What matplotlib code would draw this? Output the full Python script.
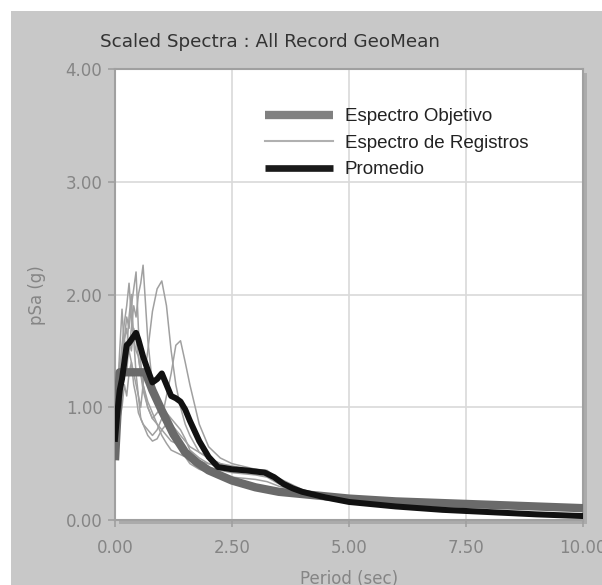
import matplotlib.pyplot as plt
from matplotlib.patches import Rectangle
from matplotlib.lines import Line2D

# Target (design) spectrum
t_target = [0, 0.1, 0.65, 0.8, 1.0, 1.25, 1.5, 1.75, 2.0, 2.5, 3.0, 3.5, 4.0, 5.0, 6.0, 7.0, 8.0, 9.0, 10.0]
sa_target = [0.53, 1.31, 1.31, 1.15, 0.97, 0.76, 0.6, 0.51, 0.44, 0.35, 0.29, 0.25, 0.23, 0.19, 0.165,
             0.15, 0.135, 0.12, 0.105]

# Scaled record spectra
t_rec = [0, 0.05, 0.1, 0.15, 0.2, 0.25, 0.3, 0.35, 0.4, 0.45, 0.5, 0.55, 0.6, 0.7, 0.8, 0.9, 1.0,
         1.1, 1.2, 1.3, 1.4, 1.5, 1.6, 1.8, 2.0, 2.25, 2.5, 3.0, 3.25, 3.5, 4.0, 5.0, 6.0, 8.0, 10.0]
rec1 = [0.55, 0.9, 1.3, 1.5, 1.6, 1.7, 1.5, 1.7, 1.9, 1.8, 2.0, 2.1, 2.26, 1.6, 1.2, 1.05, 0.95,
        0.9, 0.85, 0.8, 0.75, 0.7, 0.65, 0.6, 0.55, 0.5, 0.46, 0.42, 0.4, 0.34, 0.26, 0.17, 0.12, 0.07, 0.04]
rec2 = [0.6, 1.0, 1.4, 1.3, 1.6, 1.8, 1.7, 1.9, 2.05, 2.2, 1.7, 1.4, 1.2, 1.0, 0.9, 0.85, 0.8,
        0.75, 0.7, 0.68, 0.65, 0.6, 0.55, 0.5, 0.47, 0.44, 0.42, 0.4, 0.38, 0.32, 0.25, 0.16, 0.11, 0.07, 0.04]
rec3 = [0.5, 0.8, 1.1, 1.2, 1.3, 1.45, 1.5, 1.4, 1.3, 1.2, 1.1, 1.0, 1.2, 1.5, 1.85, 2.05, 2.12,
        1.9, 1.5, 1.2, 1.0, 0.85, 0.75, 0.6, 0.55, 0.5, 0.48, 0.44, 0.42, 0.35, 0.26, 0.16, 0.11, 0.06, 0.035]
rec4 = [0.52, 0.7, 0.9, 1.0, 1.2, 1.1, 1.3, 1.4, 1.2, 1.1, 0.95, 0.9, 0.85, 0.8, 0.75, 0.8, 0.9,
        1.1, 1.3, 1.55, 1.59, 1.4, 1.2, 0.85, 0.65, 0.55, 0.5, 0.45, 0.43, 0.37, 0.27, 0.16, 0.11, 0.06, 0.035]
rec5 = [0.65, 1.1, 1.5, 1.87, 1.5, 1.3, 1.6, 1.5, 1.7, 1.6, 1.45, 1.3, 1.2, 1.05, 0.95, 0.85, 0.75,
        0.68, 0.62, 0.6, 0.58, 0.56, 0.5, 0.45, 0.42, 0.4, 0.38, 0.36, 0.34, 0.3, 0.25, 0.16, 0.12, 0.07, 0.04]
rec6 = [0.5, 0.9, 1.2, 1.4, 1.6, 1.5, 1.8, 2.0, 1.6, 1.3, 1.1, 0.9, 0.85, 0.75, 0.7, 0.72, 0.8,
        0.85, 0.8, 0.72, 0.65, 0.6, 0.55, 0.52, 0.5, 0.48, 0.46, 0.45, 0.44, 0.36, 0.26, 0.16, 0.11, 0.06, 0.035]
rec7 = [0.58, 1.0, 1.3, 1.55, 1.75, 1.9, 2.1, 1.8, 1.6, 1.5, 1.45, 1.3, 1.15, 1.0, 0.9, 0.95, 1.0,
        0.95, 0.9, 0.85, 0.8, 0.72, 0.62, 0.55, 0.5, 0.47, 0.44, 0.42, 0.4, 0.34, 0.26, 0.16, 0.115, 0.065, 0.04]
records = [rec1, rec2, rec3, rec4, rec5, rec6, rec7]

# Average spectrum
t_mean = [0, 0.05, 0.1, 0.15, 0.2, 0.25, 0.3, 0.35, 0.4, 0.45, 0.5, 0.6, 0.7, 0.8, 0.9, 1.0, 1.1,
          1.2, 1.3, 1.4, 1.5, 1.6, 1.8, 2.0, 2.2, 2.5, 2.8, 3.0, 3.2, 3.4, 3.6, 3.8, 4.0, 4.5, 5.0,
          6.0, 7.0, 8.0, 9.0, 10.0]
sa_mean = [0.72, 0.95, 1.15, 1.25, 1.4, 1.55, 1.57, 1.6, 1.63, 1.66, 1.6, 1.45, 1.33, 1.22, 1.25,
           1.3, 1.2, 1.1, 1.08, 1.05, 0.98, 0.88, 0.7, 0.56, 0.47, 0.45, 0.44, 0.43, 0.42, 0.38,
           0.32, 0.28, 0.25, 0.2, 0.16, 0.12, 0.09, 0.07, 0.05, 0.035]

x_ticks = [0, 2.5, 5, 7.5, 10]
y_ticks = [0, 1, 2, 3, 4]

W, H = 602, 585
fig = plt.figure(figsize=(W / 100, H / 100), dpi=100, facecolor='white')

# gray panel background, white strip on top and left
fig.patches.append(Rectangle((11 / W, 0), 1, (H - 11) / H, transform=fig.transFigure,
                             facecolor='#c8c8c8', edgecolor='none', zorder=-3))

ax_l, ax_r, ax_t, ax_b = 115, 583, 69, 520
pos = [ax_l / W, (H - ax_b) / H, (ax_r - ax_l) / W, (ax_b - ax_t) / H]
# drop shadow
fig.patches.append(Rectangle((pos[0] + 4 / W, pos[1] - 4 / H), pos[2], pos[3], transform=fig.transFigure,
                             facecolor='#ababab', edgecolor='none', zorder=-2))
ax = fig.add_axes(pos)
ax.set_facecolor('white')

for r in records:
    ax.plot(t_rec, r, color='#a0a0a0', lw=1.1, zorder=2)
ax.plot(t_target, sa_target, color='#6a6a6a', lw=6, solid_capstyle='butt', zorder=3)
ax.plot(t_mean, sa_mean, color='#111111', lw=4.3, zorder=4)

ax.set_xlim(0, 10)
ax.set_ylim(0, 4)
ax.set_xticks(x_ticks)
ax.set_yticks(y_ticks)
ax.set_xticklabels(['%.2f' % v for v in x_ticks])
ax.set_yticklabels(['%.2f' % v for v in y_ticks])
ax.grid(True, color='#d9d9d9', lw=1.2)
ax.set_axisbelow(True)
for s in ax.spines.values():
    s.set_color('#a0a0a0')
    s.set_linewidth(1.5)
ax.tick_params(colors='#a0a0a0', labelcolor='#858585', labelsize=12, length=5, width=1.2, pad=4)
ax.tick_params(axis='x', pad=9)

fig.text(270 / W, 1 - 42 / H, 'Scaled Spectra : All Record GeoMean', ha='center', va='center',
         fontsize=13.2, color='#333333')
fig.text(37 / W, 1 - 295 / H, 'pSa (g)', rotation=90, ha='center', va='center', fontsize=12, color='#858585')
fig.text(349 / W, 6 / H, 'Period (sec)', ha='center', va='center', fontsize=12, color='#858585')

# legend
handles = [Line2D([], [], color='#808080', lw=6, solid_capstyle='butt'),
           Line2D([], [], color='#b0b0b0', lw=1.5),
           Line2D([], [], color='#1a1a1a', lw=4.8, solid_capstyle='butt')]
labels = ['Espectro Objetivo', 'Espectro de Registros', 'Promedio']
ax.legend(handles, labels, loc='upper left', bbox_to_anchor=(265 / W, 1 - 108 / H),
          bbox_transform=fig.transFigure, frameon=False, borderpad=0, borderaxespad=0,
          handlelength=3.6, handletextpad=0.65, labelspacing=0.5,
          prop={'family': 'Liberation Sans', 'size': 13.5}, labelcolor='#222222')

fig.savefig('out.png', dpi=100)
